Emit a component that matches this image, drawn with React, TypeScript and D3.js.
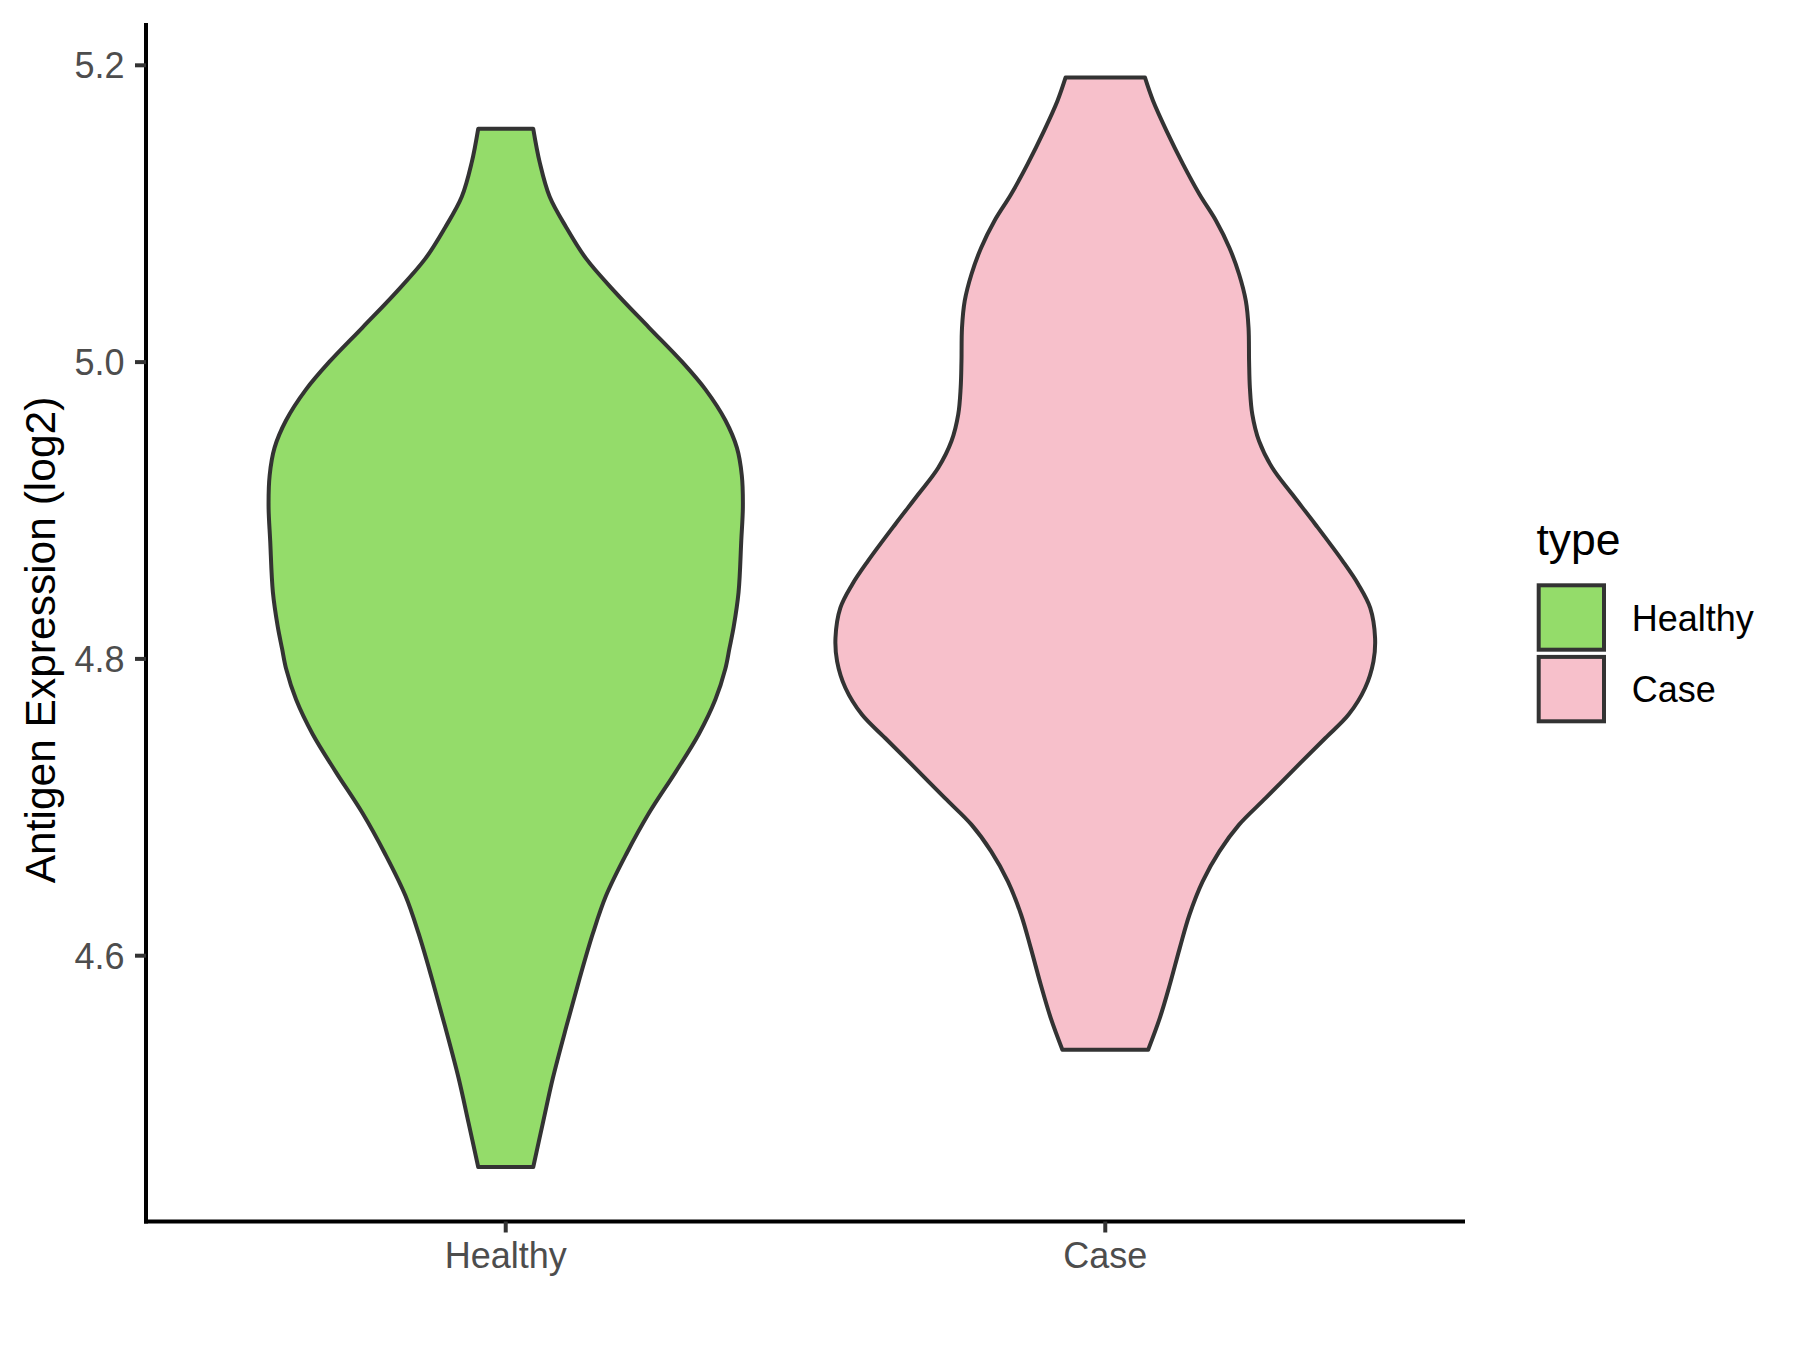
import React from "react";
import * as d3 from "d3";

// ---- data ----
const categories = ["Healthy", "Case"];
const fillColors = ["#94DC6A", "#F7C0CB"];

// density profile (value, relative density)
const healthyValues = [4.4576, 4.4875, 4.5177, 4.5524, 4.5848, 4.615, 4.6405, 4.6682, 4.6961, 4.7239, 4.7494, 4.7726, 4.7934, 4.8069, 4.8217, 4.8449, 4.8796, 4.9028, 4.9237, 4.9422, 4.9608, 4.9816, 5.0001, 5.0233, 5.0465, 5.0697, 5.0906, 5.1114, 5.1346, 5.1572];
const healthyDensity = [0.102, 0.138, 0.175, 0.225, 0.274, 0.323, 0.372, 0.446, 0.531, 0.63, 0.716, 0.777, 0.814, 0.829, 0.845, 0.863, 0.873, 0.879, 0.875, 0.857, 0.814, 0.74, 0.654, 0.531, 0.409, 0.298, 0.225, 0.163, 0.126, 0.102];

const caseValues = [4.5366, 4.5579, 4.5804, 4.6051, 4.6276, 4.6501, 4.6703, 4.6883, 4.7063, 4.7288, 4.7467, 4.7625, 4.7804, 4.7984, 4.8142, 4.8344, 4.8502, 4.8659, 4.8906, 4.9109, 4.9288, 4.9468, 4.9648, 4.9827, 5.0007, 5.0232, 5.0412, 5.0592, 5.0771, 5.0951, 5.1131, 5.1334, 5.1558, 5.1761, 5.1918];
const caseDensity = [0.159, 0.202, 0.239, 0.276, 0.312, 0.361, 0.423, 0.496, 0.595, 0.717, 0.816, 0.902, 0.963, 0.994, 1.0, 0.982, 0.938, 0.88, 0.779, 0.693, 0.619, 0.57, 0.545, 0.536, 0.533, 0.531, 0.521, 0.496, 0.46, 0.411, 0.349, 0.288, 0.227, 0.177, 0.147];

const yTicks = [4.6, 4.8, 5.0, 5.2];
const yTickLabels = ["4.6", "4.8", "5.0", "5.2"];
const yTitle = "Antigen Expression (log2)";
const legendTitle = "type";

const FONT = "'Liberation Sans', Arial, Helvetica, sans-serif";

export default function App() {
  const W = 1800, H = 1350;
  const left = 146, right = 1465, top = 23, bottom = 1221.5;

  const series = [
    { values: healthyValues, density: healthyDensity },
    { values: caseValues, density: caseDensity },
  ];
  const allVals = series.flatMap((s) => s.values);
  const vmin = d3.min(allVals)!;
  const vmax = d3.max(allVals)!;
  const pad = (vmax - vmin) * 0.05;

  const y = d3.scaleLinear().domain([vmin - pad, vmax + pad]).range([bottom, top]);
  const x = d3.scalePoint<string>().domain(categories).range([left, right]).padding(0.6);
  const step = x.step();
  const maxD = d3.max(series.flatMap((s) => s.density))!;
  const w = d3.scaleLinear().domain([0, maxD]).range([0, step * 0.45]);

  const stroke = "#333333";
  const textGrey = "#4D4D4D";
  const lw = 4;
  const small = 36;

  return (
    <svg width={W} height={H} style={{ position: "absolute", left: 0, top: 0, background: "#fff" }} fontFamily={FONT}>
      <rect x={0} y={0} width={W} height={H} fill="#fff" />
      {series.map((s, i) => {
        const cx = x(categories[i])!;
        const pts = s.values.map((v, j) => ({ v, d: s.density[j] }));
        const area = d3
          .area<{ v: number; d: number }>()
          .y((p) => y(p.v))
          .x0((p) => cx - w(p.d))
          .x1((p) => cx + w(p.d))
          .curve(d3.curveCatmullRom.alpha(0.5));
        return (
          <path key={i} d={area(pts)!} fill={fillColors[i]} stroke={stroke} strokeWidth={lw} strokeLinejoin="round" />
        );
      })}

      {/* y axis */}
      <line x1={left} x2={left} y1={top} y2={bottom + lw / 2} stroke="#000" strokeWidth={lw} />
      {yTicks.map((t, i) => (
        <g key={t}>
          <line x1={left - 11} x2={left} y1={y(t)} y2={y(t)} stroke={stroke} strokeWidth={lw} />
          <text x={124.5} y={y(t) + 12.8} fontSize={small} fill={textGrey} textAnchor="end">
            {yTickLabels[i]}
          </text>
        </g>
      ))}

      {/* x axis */}
      <line x1={left - lw / 2} x2={right} y1={bottom} y2={bottom} stroke="#000" strokeWidth={lw} />
      {categories.map((c) => (
        <g key={c}>
          <line x1={x(c)!} x2={x(c)!} y1={bottom} y2={bottom + 11} stroke={stroke} strokeWidth={lw} />
          <text x={x(c)!} y={1268.3} fontSize={small} fill={textGrey} textAnchor="middle">
            {c}
          </text>
        </g>
      ))}

      {/* y title */}
      <text transform={`translate(55, 640) rotate(-90)`} fontSize={42.5} fill="#000" textAnchor="middle">
        {yTitle}
      </text>

      {/* legend */}
      <text x={1536.5} y={555} fontSize={44.5} fill="#000">
        {legendTitle}
      </text>
      {categories.map((c, i) => (
        <g key={c}>
          <rect x={1538.7} y={585.3 + i * 71.6} width={65.3} height={64.4} fill={fillColors[i]} stroke={stroke} strokeWidth={lw} />
          <text x={1631.7} y={630.7 + i * 71} fontSize={small} fill="#000">
            {c}
          </text>
        </g>
      ))}
    </svg>
  );
}
